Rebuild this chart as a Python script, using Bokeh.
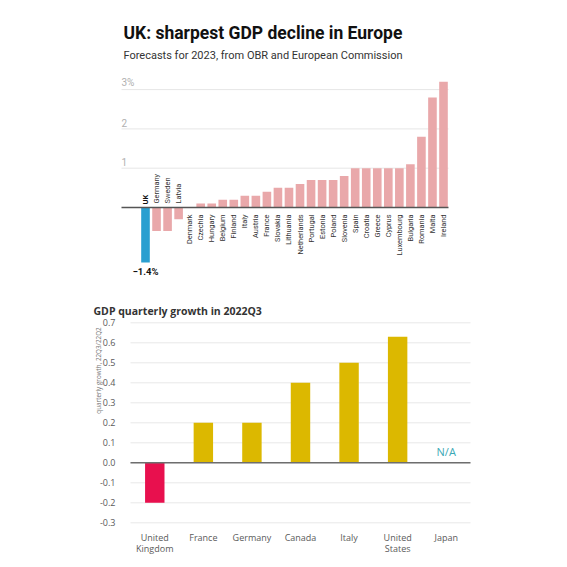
from bokeh.plotting import figure
from bokeh.models import Label, Range1d
from bokeh.core.properties import value
from bokeh.layouts import column
from bokeh.embed import file_html
from bokeh.resources import INLINE
import math

# ---------------- data ----------------
eu_countries = ["UK", "Germany", "Sweden", "Latvia", "Denmark", "Czechia", "Hungary",
                "Belgium", "Finland", "Italy", "Austria", "France", "Slovakia", "Lithuania",
                "Netherlands", "Portugal", "Estonia", "Poland", "Slovenia", "Spain",
                "Croatia", "Greece", "Cyprus", "Luxembourg", "Bulgaria", "Romania",
                "Malta", "Ireland"]
eu_forecast = [-1.4, -0.6, -0.6, -0.3, 0.0, 0.1, 0.1, 0.2, 0.2, 0.3, 0.3, 0.4, 0.5, 0.5,
               0.6, 0.7, 0.7, 0.7, 0.8, 1.0, 1.0, 1.0, 1.0, 1.0, 1.1, 1.8, 2.8, 3.2]
eu_ticks = [1, 2, 3]
eu_tick_labels = ["1", "2", "3%"]

g7_countries = ["United Kingdom", "France", "Germany", "Canada", "Italy",
                "United States", "Japan"]
g7_axis_labels = ["United\nKingdom", "France", "Germany", "Canada", "Italy",
                  "United\nStates", "Japan"]
g7_growth = [-0.2, 0.2, 0.2, 0.4, 0.5, 0.63, None]
g7_ticks = [-0.3, -0.2, -0.1, 0.0, 0.1, 0.2, 0.3, 0.4, 0.5, 0.6, 0.7]

PINK = "#e9a8aa"
BLUE = "#2a9fd0"
GOLD = "#dcb800"
RED = "#e8104e"
TEAL = "#3aa9b6"
TOPFONT = value("Roboto")
BOTFONT = value("Open Sans")

W = 567

# ---------------- top chart ----------------
H1 = 290
n = len(eu_countries)
xs = list(range(n))
slot = 11.037
yu = 39.3
zero_px = 207
p1 = figure(frame_width=W, frame_height=H1,
            x_range=Range1d(-145 / slot, -145 / slot + W / slot),
            y_range=Range1d(-(H1 - zero_px) / yu, zero_px / yu),
            output_backend="svg", toolbar_location=None, min_border=0,
            x_axis_type=None, y_axis_type=None)
p1.outline_line_color = None
p1.grid.visible = False

gx0, gx1 = (121 - 145) / slot, (448 - 145) / slot
p1.segment(x0=[gx0] * len(eu_ticks), x1=[gx1] * len(eu_ticks), y0=eu_ticks, y1=eu_ticks,
           line_color="#e6e6e6", line_width=1)
p1.text(x=[gx0] * len(eu_ticks), y=eu_ticks, text=eu_tick_labels,
        text_font=TOPFONT, text_font_size="10px", text_color="#b0b0b0",
        text_baseline="bottom", text_align="left", y_offset=-2)

colors = [BLUE if c == "UK" else PINK for c in eu_countries]
p1.vbar(x=xs, top=eu_forecast, bottom=0, width=0.78, fill_color=colors, line_color=None)
p1.segment(x0=[gx0], x1=[gx1], y0=[0], y1=[0], line_color="#555555", line_width=1.3)

pos = [i for i in xs if eu_forecast[i] >= 0]
neg = [i for i in xs if eu_forecast[i] < 0 and eu_countries[i] != "UK"]
uk = [i for i in xs if eu_countries[i] == "UK"]
p1.text(x=pos, y=[0] * len(pos), text=[eu_countries[i] for i in pos], angle=math.pi / 2,
        text_align="right", text_baseline="middle", y_offset=7,
        text_font=TOPFONT, text_font_size="7.4px", text_color="#333333")
p1.text(x=neg, y=[0] * len(neg), text=[eu_countries[i] for i in neg], angle=math.pi / 2,
        text_align="left", text_baseline="middle", y_offset=-4,
        text_font=TOPFONT, text_font_size="7.4px", text_color="#333333")
p1.text(x=uk, y=[0] * len(uk), text=[eu_countries[i] for i in uk], angle=math.pi / 2,
        text_align="left", text_baseline="middle", y_offset=-3,
        text_font=TOPFONT, text_font_size="7.6px", text_color="#111111",
        text_font_style="bold")
p1.text(x=uk, y=[eu_forecast[i] for i in uk],
        text=["\u2212" + f"{abs(eu_forecast[i]):.1f}%" for i in uk],
        text_align="center", text_baseline="middle", y_offset=9,
        text_font=TOPFONT, text_font_size="9.5px", text_color="#111111",
        text_font_style="bold")

p1.add_layout(Label(x=123, y=H1 - 32.3, x_units="screen", y_units="screen",
                    text="UK: sharpest GDP decline in Europe", text_font="Roboto",
                    text_font_size="17.5px", text_font_style="bold", text_color="#111111",
                    text_baseline="alphabetic"))
p1.add_layout(Label(x=123, y=H1 - 55.3, x_units="screen", y_units="screen",
                    text="Forecasts for 2023, from OBR and European Commission",
                    text_font="Roboto", text_font_size="11px", text_color="#333333",
                    text_baseline="alphabetic"))

# ---------------- bottom chart ----------------
H2 = 277
slot2 = 48.57
m = len(g7_countries)
x2 = list(range(m))
left_px = 130  # canvas px to left edge of first category slot
xs0 = -0.5 - left_px / slot2
zero2 = 462.3 - H1
yu2 = 200
p2 = figure(frame_width=W, frame_height=H2,
            x_range=Range1d(xs0, xs0 + W / slot2),
            y_range=Range1d((zero2 - H2) / yu2, zero2 / yu2),
            output_backend="svg", toolbar_location=None, min_border=0,
            x_axis_type=None, y_axis_type=None)
p2.outline_line_color = None
p2.grid.visible = False

p2.segment(x0=[-0.5] * len(g7_ticks), x1=[m - 0.5] * len(g7_ticks),
           y0=g7_ticks, y1=g7_ticks, line_color="#e8e8e8", line_width=1)
p2.text(x=[-0.5] * len(g7_ticks), y=g7_ticks, text=[f"{t:.1f}" for t in g7_ticks],
        text_align="right", text_baseline="middle", x_offset=-15,
        text_font=BOTFONT, text_font_size="9px", text_color="#5a5a5a")

have = [i for i, v in enumerate(g7_growth) if v is not None]
missing = [i for i, v in enumerate(g7_growth) if v is None]
bar_cols = [RED if g7_countries[i] == "United Kingdom" else GOLD for i in have]
p2.vbar(x=have, top=[g7_growth[i] for i in have], bottom=0,
        width=0.4, fill_color=bar_cols, line_color=None)
p2.segment(x0=[-0.5], x1=[m - 0.5], y0=[0], y1=[0], line_color="#6e6e6e", line_width=1.5)
p2.text(x=missing, y=[0] * len(missing), text=["N/A"] * len(missing),
        text_align="center", text_baseline="bottom", y_offset=-4,
        text_font=BOTFONT, text_font_size="11px", text_color=TEAL)

p2.text(x=x2, y=[min(g7_ticks)] * m, text=g7_axis_labels,
        text_align="center", text_baseline="top", y_offset=8, text_line_height=0.85,
        text_font=BOTFONT, text_font_size="9px", text_color="#5a5a5a")

p2.text(x=[(93 - left_px) / slot2 - 0.5], y=[(462.3 - 310) / yu2],
        text=["GDP quarterly growth in 2022Q3"], text_font=BOTFONT,
        text_font_size="10.5px", text_font_style="bold", text_color="#333333",
        text_baseline="alphabetic", text_align="left")
p2.text(x=[(98 - left_px) / slot2 - 0.5], y=[(462.3 - 370) / yu2], angle=math.pi / 2,
        text=["quarterly growth, 22Q3/22Q2"], text_font=BOTFONT,
        text_font_size="6.3px", text_color="#777777",
        text_align="center", text_baseline="middle")

layout = column(p1, p2, spacing=0)
open("out.html", "w").write(file_html(layout, INLINE))
